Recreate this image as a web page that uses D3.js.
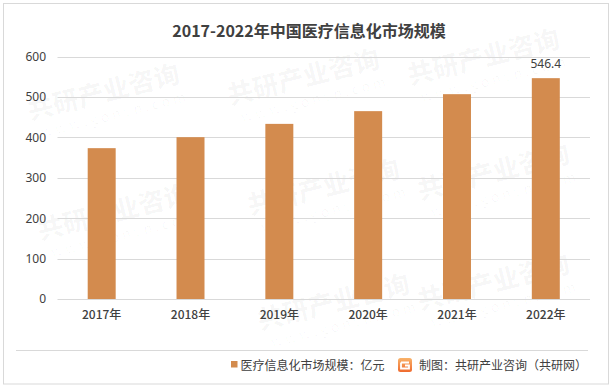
<!DOCTYPE html>
<html><head><meta charset="utf-8">
<script src="https://cdn.jsdelivr.net/npm/d3@7/dist/d3.min.js"></script>
<style>
html,body{margin:0;padding:0;background:#fff;}
svg{display:block;font-family:"Noto Sans CJK SC","Noto Sans",sans-serif;}
</style></head>
<body><svg id="chart" width="616" height="388"></svg>
<script>
const categories = ["2017年","2018年","2019年","2020年","2021年","2022年"];
const values = [373.2, 400.4, 433.3, 464.8, 506.8, 546.4];
const yTicks = [0,100,200,300,400,500,600];
const labeledIndex = [5];
const title = "2017-2022年中国医疗信息化市场规模";
const legendLabel = "医疗信息化市场规模：亿元";
const sourceLabel = "制图：共研产业咨询（共研网）";
const watermarkMain = "共研产业咨询";
const watermarkSub = "w w w . g o n y n . c o m";

const svg = d3.select("#chart");
const textColor = "#404040";
const barColor = "#D38B4E";
const gridColor = "#d9d9d9";

// frame
svg.append("rect").attr("x",3.5).attr("y",3.5).attr("width",605).attr("height",380.5)
  .attr("fill","#fff").attr("stroke",gridColor).attr("stroke-width",1);

// watermarks (kept inside the frame)
const wm = svg.append("g").attr("pointer-events","none");
const wmPos = [[30,120],[230,105],[410,85],[40,240],[250,215],[420,200],[260,330],[420,310]];
wmPos.forEach(([x,y])=>{
  const g = wm.append("g").attr("transform",`translate(${x},${y}) rotate(-14)`);
  g.append("text").attr("x",0).attr("y",0).attr("font-size",26).attr("font-weight",900)
    .attr("fill","#000").attr("fill-opacity",0.03).text(watermarkMain);
  g.append("text").attr("x",8).attr("y",20).attr("font-size",14)
    .attr("fill","#000").attr("fill-opacity",0.03).text(watermarkSub);
});

// title
svg.append("text").attr("x",309).attr("y",37).attr("text-anchor","middle")
  .attr("font-size",16).attr("font-weight",700).attr("fill",textColor).text(title);

const x = d3.scaleBand().domain(categories).range([57.5, 590]).paddingInner(0.685).paddingOuter(0.34);
const y = d3.scaleLinear().domain([0,600]).range([299, 56.5]);

// gridlines
svg.append("g").selectAll("line").data(yTicks).join("line")
  .attr("x1",57.5).attr("x2",590)
  .attr("y1",d=>Math.round(y(d))+0.5).attr("y2",d=>Math.round(y(d))+0.5)
  .attr("stroke",gridColor).attr("stroke-width",1);

// y axis
const yAxis = d3.axisLeft(y).tickValues(yTicks).tickSize(0).tickPadding(0).tickFormat(d3.format("d"));
const yg = svg.append("g").attr("transform","translate(46,0)").call(yAxis);
yg.select(".domain").remove();
yg.selectAll("text").attr("font-size",12).attr("fill",textColor).attr("font-family","'Noto Sans','Noto Sans CJK SC',sans-serif");

// x axis
const xAxis = d3.axisBottom(x).tickSize(0).tickPadding(0);
const xg = svg.append("g").attr("transform","translate(0,310)").call(xAxis);
xg.select(".domain").remove();
xg.selectAll("text").attr("font-size",12).attr("fill",textColor).attr("font-weight",500)
  .attr("font-family","'Noto Sans CJK SC',sans-serif");

// bars
svg.append("g").selectAll("rect").data(values).join("rect")
  .attr("x",(d,i)=>x(categories[i]))
  .attr("width",x.bandwidth())
  .attr("y",d=>y(d))
  .attr("height",d=>y(0)-y(d))
  .attr("fill",barColor);

// value label
svg.append("g").selectAll("text").data(labeledIndex).join("text")
  .attr("x",i=>x(categories[i])+x.bandwidth()/2)
  .attr("y",i=>y(values[i])-10)
  .attr("text-anchor","middle").attr("font-size",12).attr("fill",textColor)
  .attr("font-family","'Noto Sans','Noto Sans CJK SC',sans-serif")
  .text(i=>values[i]);

// separator
svg.append("line").attr("x1",16).attr("x2",588).attr("y1",350.5).attr("y2",350.5)
  .attr("stroke",gridColor).attr("stroke-width",1);

// legend
svg.append("rect").attr("x",231).attr("y",361).attr("width",6.5).attr("height",6.5).attr("fill",barColor);
svg.append("text").attr("x",240.5).attr("y",369.5).attr("font-size",12).attr("fill",textColor).text(legendLabel);

// logo
const defs = svg.append("defs");
const lg = defs.append("linearGradient").attr("id","logoGrad").attr("x1","0").attr("y1","0").attr("x2","0").attr("y2","1");
lg.append("stop").attr("offset","0%").attr("stop-color","#F9B36A");
lg.append("stop").attr("offset","100%").attr("stop-color","#EF6A2E");
const logo = svg.append("g").attr("transform","translate(398,358)");
logo.append("rect").attr("width",14).attr("height",14).attr("rx",2.5).attr("fill","url(#logoGrad)");
logo.append("path").attr("d","M3,4.5 H11 M3,4.5 V10.5 H11 V7.5 H7").attr("fill","none")
  .attr("stroke","#fff").attr("stroke-width",1.8);

svg.append("text").attr("x",419).attr("y",369.5).attr("font-size",12).attr("fill",textColor).text(sourceLabel);
</script>
</body></html>
